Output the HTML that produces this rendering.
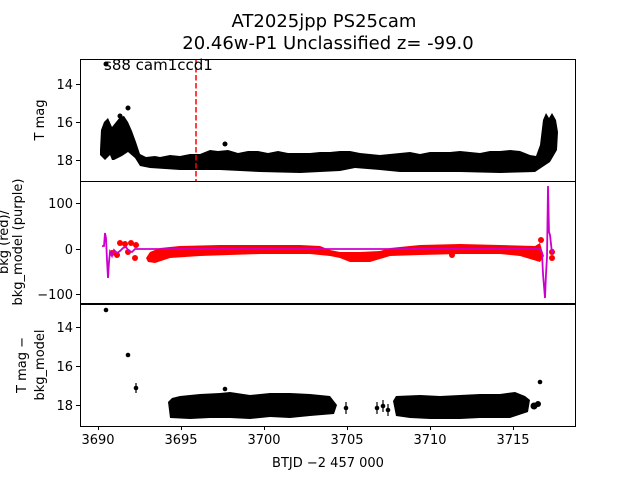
<!DOCTYPE html>
<html><head><style>body{margin:0;background:#fff}svg{display:block}text{font-family:"DejaVu Sans","Liberation Sans",sans-serif;fill:#000}</style></head>
<body>
<svg width="640" height="480" viewBox="0 0 640 480">
<text x="324" y="27" font-size="18" text-anchor="middle">AT2025jpp  PS25cam</text>
<text x="328" y="49" font-size="18" text-anchor="middle">20.46w-P1 Unclassified z= -99.0</text>
<!-- panel 1 -->
<polygon fill="#000" points="100,150 101,130 104,122 108,118 112,127 116,122 120,117 124,116 128,122 132,131 136,142 140,154 146,157 155,156 160,157 170,155 180,156 190,154 200,154 210,150 218,151 228,150 238,153 248,151 258,151 268,153 278,151 288,153 300,153 310,153 320,152 330,152 340,151 350,151 360,153 380,155 400,153 410,152 420,154 430,152 440,152 450,152 460,151 470,152 480,153 490,151 500,151 510,150 520,151 530,155 536,156 540,145 543,120 546,113 549,118 552,113 556,120 558,132 557,150 550,162 535,172 500,173 460,172 420,172 400,172 380,170 355,168 340,171 300,173 260,172 220,170 180,170 150,168 140,166 135,158 128,152 122,156 118,158 114,160 112,160 110,155 105,160 100,155"/>
<circle cx="106" cy="64" r="2.5"/><circle cx="120" cy="116" r="2.5"/><circle cx="128" cy="108" r="2.5"/><circle cx="225" cy="144" r="2.5"/>
<line x1="196" y1="59" x2="196" y2="181" stroke="#f00" stroke-width="1.5" stroke-dasharray="5.5,2.5"/>
<text x="104" y="70" font-size="15">s88 cam1ccd1</text>
<!-- panel 2 -->
<polygon fill="#f00" points="146,258 150,252 160,248 180,246 220,245 260,245 300,245 320,246 330,250 340,252 360,252 380,251 390,248 420,245 460,244 500,245 535,246 540,243 542,250 544,256 540,262 520,256 500,254 460,254 420,255 390,256 370,262 350,262 340,258 330,256 310,254 260,254 200,256 170,258 155,263 148,262"/>
<g fill="#f00"><circle cx="120" cy="243" r="3"/><circle cx="125" cy="244" r="3"/><circle cx="131" cy="243" r="3"/><circle cx="136" cy="245" r="3"/><circle cx="128" cy="252" r="3"/><circle cx="117" cy="255" r="3"/><circle cx="135" cy="258" r="3"/><circle cx="112" cy="253" r="3"/><circle cx="452" cy="255" r="3"/><circle cx="552" cy="252" r="3"/><circle cx="552" cy="258" r="3"/><circle cx="541" cy="240" r="3"/></g>
<polyline fill="none" stroke="#c0c" stroke-width="1.8" points="102,246 104,246 105,233 106,238 107,260 108,278 109,262 110,252 112,256 114,250 117,253 120,251 123,248 126,247 129,251 132,252 135,249 140,249 200,249 300,249 540,249 542,253 543,274 545,298 546,274 547,257 548,186 549,232 550,235 552,253 553,249"/>
<!-- panel 3 -->
<polygon fill="#000" points="168,402 172,398 180,396 200,394 220,393 230,392 250,395 270,393 290,393 310,394 330,396 337,405 334,414 310,416 290,418 270,417 250,419 230,418 210,418 190,419 170,418"/>
<polygon fill="#000" points="393,401 396,396 420,395 440,396 460,395 480,394 500,394 515,392 525,396 530,400 528,412 510,418 480,418 460,419 430,419 410,418 396,416"/>
<g fill="#000"><circle cx="106" cy="310" r="2.3"/><circle cx="128" cy="355" r="2.3"/><circle cx="136" cy="388" r="2.3"/><circle cx="225" cy="389" r="2.3"/><circle cx="346" cy="408" r="2.3"/><circle cx="377" cy="408" r="2.3"/><circle cx="383" cy="406" r="2.3"/><circle cx="388" cy="410" r="2.3"/><circle cx="540" cy="382" r="2.3"/><circle cx="534" cy="406" r="3.5"/><circle cx="538" cy="404" r="3"/></g>
<g stroke="#000" stroke-width="1.2"><line x1="136" y1="383" x2="136" y2="393"/><line x1="346" y1="402" x2="346" y2="414"/><line x1="377" y1="402" x2="377" y2="414"/><line x1="383" y1="400" x2="383" y2="412"/><line x1="388" y1="404" x2="388" y2="416"/></g>
<!-- axes frames -->
<g fill="none" stroke="#000" stroke-width="1"><rect x="80.5" y="59.5" width="495" height="122"/><rect x="80.5" y="181.5" width="495" height="122"/><rect x="80.5" y="304.5" width="495" height="122"/></g>
<g stroke="#000">
<line x1="76" y1="84.5" x2="80" y2="84.5"/><line x1="76" y1="122.5" x2="80" y2="122.5"/><line x1="76" y1="160.5" x2="80" y2="160.5"/>
<line x1="76" y1="203.5" x2="80" y2="203.5"/><line x1="76" y1="249.5" x2="80" y2="249.5"/><line x1="76" y1="294.5" x2="80" y2="294.5"/>
<line x1="76" y1="327.5" x2="80" y2="327.5"/><line x1="76" y1="366.5" x2="80" y2="366.5"/><line x1="76" y1="405.5" x2="80" y2="405.5"/>
<line x1="98.5" y1="426" x2="98.5" y2="430"/><line x1="181.5" y1="426" x2="181.5" y2="430"/><line x1="264.5" y1="426" x2="264.5" y2="430"/><line x1="347.5" y1="426" x2="347.5" y2="430"/><line x1="430.5" y1="426" x2="430.5" y2="430"/><line x1="513.5" y1="426" x2="513.5" y2="430"/>
</g>
<g font-size="13" text-anchor="end">
<text x="73" y="89">14</text><text x="73" y="127">16</text><text x="73" y="165">18</text>
<text x="73" y="208">100</text><text x="73" y="254">0</text><text x="73" y="299">−100</text>
<text x="73" y="332">14</text><text x="73" y="371">16</text><text x="73" y="410">18</text>
</g>
<g font-size="13" text-anchor="middle">
<text x="98" y="444">3690</text><text x="181" y="444">3695</text><text x="264" y="444">3700</text><text x="347" y="444">3705</text><text x="430" y="444">3710</text><text x="513" y="444">3715</text>
<text x="328" y="467">BTJD −2 457 000</text>
</g>
<g font-size="13" text-anchor="middle">
<text transform="translate(44,120) rotate(-90)">T mag</text>
<text transform="translate(8,242) rotate(-90)">bkg (red)/</text>
<text transform="translate(22,242) rotate(-90)">bkg_model (purple)</text>
<text transform="translate(26,365) rotate(-90)">T mag −</text>
<text transform="translate(44,365) rotate(-90)">bkg_model</text>
</g>
</svg>
</body></html>
